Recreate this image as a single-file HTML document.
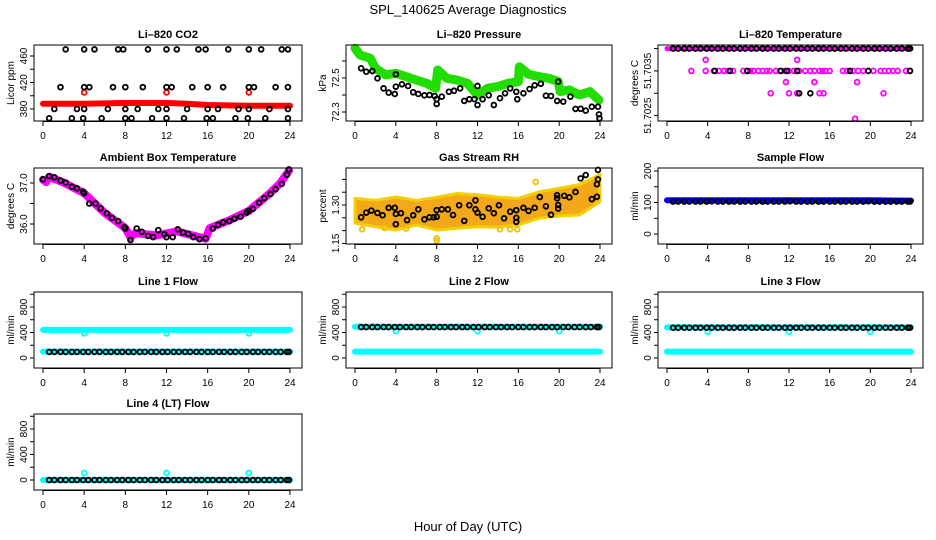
<!DOCTYPE html>
<html><head><meta charset="utf-8"><style>
html,body{margin:0;padding:0;background:#fff;}
svg{display:block;font-family:"Liberation Sans",sans-serif;}
</style></head><body>
<svg id="chart" width="936" height="540" viewBox="0 0 936 540" xmlns="http://www.w3.org/2000/svg">
<rect width="936" height="540" fill="#fff"/>
<text x="468" y="14" text-anchor="middle" font-size="13">SPL_140625  Average Diagnostics</text>
<text x="468" y="531" text-anchor="middle" font-size="13">Hour of Day (UTC)</text>
</svg>
<script>
// ---- shared hours for regular black markers ----
const H = [0.6,1.1,1.7,2.2,2.8,3.3,3.9,4.4,5.0,5.5,6.1,6.6,7.2,7.7,8.3,8.8,9.4,9.9,10.5,11.0,11.6,12.1,12.7,13.2,13.8,14.3,14.9,15.4,16.0,16.5,17.1,17.6,18.2,18.7,19.3,19.8,20.4,20.9,21.5,22.0,22.6,23.1,23.7,23.9];
const bandHours = [0,4,8,12,16,20,24];
const xTicks = [0,4,8,12,16,20,24];

// ---- CO2 ----
const co2Hours = [2.2,4,5,7.3,7.8,10.2,12,13,15.1,15.8,18,20,21.2,23.2,23.8, 1.7,4,4.5,6.8,8,9.7,12,12.5,14.5,16,17.5,20,20.5,22.6,23.8, 1.1,3.3,4,6.3,8,9.2,11.2,12,14,16,17,19,20,22,23.8, 0.6,2.8,3.9,5.7,8,8.6,10.6,12,13.7,15.9,16.5,18.7,19.9,21.6,23.8];
const co2Vals = [470,470,470,470,470,470,470,470,470,470,470,470,470,470,470, 413,413,413,413,413,413,413,413,413,413,413,413,413,413,413, 380,380,380,380,380,380,380,380,380,380,380,380,380,380,380, 366,366,366,366,366,366,366,366,366,366,366,366,366,366,366];
const co2BandHours = [0,4,8,10,12,14,16,20,24];
const co2Band = [388,388,389,389,389,388,386,385,385];
const co2OutHours = [4,12,20];
const co2Out = [405,405,405];

// ---- Pressure ----
const presBandHours = [0,0.5,1.5,2,3,4,5,6,7,7.9,8.1,9,10,11,12,13,14,15,16,16.1,17,18,19,19.9,20.1,21,22,23,23.9];
const presBand = [72.675,72.635,72.616,72.557,72.518,72.528,72.508,72.488,72.469,72.44,72.547,72.498,72.488,72.469,72.40,72.44,72.45,72.469,72.478,72.566,72.522,72.508,72.498,72.48,72.42,72.43,72.40,72.42,72.37];
const presHours = [0.6,1.1,1.7,2.2,2.8,3.3,3.9,4,4,4.6,5.2,5.7,6.2,6.8,7.3,7.8,8,8,8.5,9.2,9.7,10.3,10.7,11.2,11.7,12,12,12.5,13.1,13.6,14.2,14.7,15.2,15.8,15.9,16.5,17.1,17.6,18.2,18.7,19.2,19.8,19.9,20.4,21.1,21.6,22.1,22.6,23.2,23.8,23.9,23.95];
const presVals = [72.557,72.537,72.541,72.498,72.439,72.414,72.406,72.522,72.449,72.463,72.453,72.416,72.406,72.398,72.400,72.394,72.376,72.347,72.390,72.419,72.425,72.439,72.365,72.375,72.376,72.341,72.453,72.375,72.398,72.341,72.381,72.410,72.439,72.419,72.375,72.410,72.435,72.457,72.466,72.396,72.394,72.365,72.478,72.361,72.390,72.318,72.319,72.308,72.331,72.331,72.286,72.263];

// ---- Li-820 temperature ----
const tempTop = [51.7040,51.7040,51.7040,51.7040,51.7040,51.7040,51.7040,51.7040,51.7040,51.7040,51.7040,51.7040,51.7040,51.7040,51.7040,51.7040,51.7040,51.7040,51.7040,51.7040,51.7040,51.7040,51.7040,51.7040,51.7040,51.7040,51.7040,51.7040,51.7040,51.7040,51.7040,51.7040,51.7040,51.7040,51.7040,51.7040,51.7040,51.7040,51.7040,51.7040,51.7040,51.7040,51.7040,51.7040];
const tempBandVals = [51.7040,51.7040,51.7040,51.7040,51.7040,51.7040,51.7040];
const tempMagHours = [2.4,3.8,4.6,5.1,5.6,6,6.5,7.5,7.9,8.2,8.5,9,9.4,9.8,10.1,10.7,11.1,11.6,12,12.5,13,13.6,14.1,14.5,15,15.3,15.6,16,17.3,17.7,18.3,18.8,19.3,20.3,21,21.4,21.8,22.2,22.7,23.5,23.9, 3.8,12.8, 11.7,14.5,18.7, 10.2,12,12.8,15,15.4,21.3, 18.5];
const tempMagVals = [51.7035,51.7035,51.7035,51.7035,51.7035,51.7035,51.7035,51.7035,51.7035,51.7035,51.7035,51.7035,51.7035,51.7035,51.7035,51.7035,51.7035,51.7035,51.7035,51.7035,51.7035,51.7035,51.7035,51.7035,51.7035,51.7035,51.7035,51.7035,51.7035,51.7035,51.7035,51.7035,51.7035,51.7035,51.7035,51.7035,51.7035,51.7035,51.7035,51.7035,51.7035, 51.70375,51.70375, 51.70325,51.70325,51.70325, 51.7030,51.7030,51.7030,51.7030,51.7030,51.7030, 51.70243];
const tempBlkHours = [4.7,6.2,7.9,11.2,11.8,12.8,18,19.8,23.9,13,14.1];
const tempBlkVals = [51.7035,51.7035,51.7035,51.7035,51.7035,51.7035,51.7035,51.7035,51.7035,51.7030,51.7030];

// ---- Ambient box temperature ----
const ambHours = [0,0.6,1.1,1.7,2.2,2.8,3.3,3.9,4,4.5,5.1,5.6,6.2,6.7,7.3,7.9,8,8.5,9.1,9.6,10.2,10.7,11.2,11.8,12,12.6,13.1,13.6,14.1,14.6,15.2,15.8,16.5,17,17.5,18.1,18.6,19.2,19.8,20,20.4,21,21.5,22.1,22.6,23.2,23.7,23.9];
const ambVals = [37.09,37.17,37.14,37.06,37.01,36.91,36.87,36.79,36.75,36.50,36.50,36.38,36.26,36.15,36.07,35.92,35.89,35.61,35.89,35.81,35.71,35.68,35.85,35.75,35.68,35.68,35.87,35.79,35.76,35.68,35.63,35.65,35.89,35.98,36.04,36.07,36.13,36.18,36.28,36.32,36.37,36.52,36.63,36.73,36.85,36.98,37.20,37.33];
const ambBandHours = [0,0.3,0.6,2,4,6,8,8.5,9,11,13,15.8,16.2,18,20,22,23,23.9];
const ambBand = [37.08,37.02,37.15,37.01,36.75,36.27,35.90,35.68,35.78,35.72,35.82,35.64,35.90,36.08,36.32,36.74,36.98,37.30];

// ---- Gas stream RH ----
const rhBandHours = [0,2,4,6,8,10,12,14,16,18,20,22,24];
const rhUpper = [1.326,1.318,1.331,1.318,1.330,1.345,1.340,1.331,1.326,1.351,1.365,1.380,1.419];
const rhLower = [1.229,1.215,1.202,1.222,1.202,1.209,1.215,1.213,1.222,1.248,1.257,1.261,1.313];
const rhOutHours = [0.7,2.9,5.0,8,8,15.2,15.9,17.7,14.2];
const rhOutVals = [1.205,1.21,1.208,1.16,1.17,1.205,1.205,1.39,1.205];
const rhHours = [0.6,1.1,1.6,2.2,2.7,3.3,3.9,4,4,4.5,5.1,5.7,6.2,6.8,7.3,7.7,8,8,8.5,9.1,9.6,10.2,10.7,11.2,11.8,11.8,12,12.5,13.1,13.6,14.1,14.6,15.2,15.8,15.8,15.8,16.5,17,17.6,18.1,18.7,19.2,19.8,19.8,19.9,19.9,20.5,21,21.6,22.1,22.6,23.2,23.7,23.7,23.8,23.8];
const rhVals = [1.252,1.270,1.278,1.269,1.260,1.289,1.289,1.265,1.225,1.268,1.241,1.260,1.283,1.244,1.252,1.252,1.280,1.254,1.283,1.283,1.261,1.299,1.238,1.299,1.318,1.283,1.270,1.254,1.287,1.268,1.299,1.248,1.274,1.280,1.250,1.234,1.289,1.277,1.289,1.331,1.295,1.262,1.338,1.326,1.300,1.286,1.336,1.330,1.351,1.404,1.417,1.323,1.332,1.381,1.400,1.437];

// ---- Sample flow ----
const sampleBand = [107,107,107,107,107,107,106];
const sampleVals = [103,103,103,103,103,103,103,104,103,103,103,103,103,103,103,103,103,103,103,103,103,104,103,103,103,103,103,103,103,103,103,103,103,103,103,104,103,103,103,103,103,103,103,103];

// ---- Line flows ----
const line1High = [440,440,440,440,440,440,440];
const line1Low = [100,100,100,100,100,100,100];
const line1Black = [95,95,95,95,95,95,95,95,95,95,95,95,95,95,95,95,95,95,95,95,95,95,95,95,95,95,95,95,95,95,95,95,95,95,95,95,95,95,95,95,95,95,95,95];
const line1OutVals = [385,385,385];
const line2High = [490,490,490,490,490,490,490];
const line2Low = [100,100,100,100,100,100,100];
const line2Black = [485,485,485,485,485,485,485,485,485,485,485,485,485,485,485,485,485,485,485,485,485,485,485,485,485,485,485,485,485,485,485,485,485,485,485,485,485,485,485,485,485,485,485,485];
const line2OutVals = [420,420,420];
const line3High = [480,480,480,480,480,480,480];
const line3Low = [100,100,100,100,100,100,100];
const line3Black = [475,475,475,475,475,475,475,475,475,475,475,475,475,475,475,475,475,475,475,475,475,475,475,475,475,475,475,475,475,475,475,475,475,475,475,475,475,475,475,475,475,475,475,475];
const line3OutVals = [410,410,410];
const line4Band = [0,0,0,0,0,0,0];
const line4Black = [0,0,0,0,0,0,0,0,0,0,0,0,0,0,0,0,0,0,0,0,0,0,0,0,0,0,0,0,0,0,0,0,0,0,0,0,0,0,0,0,0,0,0,0];
const line4OutVals = [110,110,110];
const outHours = [4,12,20];

const NS = "http://www.w3.org/2000/svg";
const svg = document.getElementById('chart');
function mk(tag, attrs, parent){
  const e = document.createElementNS(NS, tag);
  for (const k in attrs) e.setAttribute(k, attrs[k]);
  (parent||svg).appendChild(e);
  return e;
}
const colLeft = [34,346,658], colW = [268,266,265];
const rowTop = [45,168,292,414], PH = 76;

function panel(col,row,name,title,ylab,ymin,ymax,ticks,labels){
  const L = colLeft[col], T = rowTop[row], W = colW[col];
  const g = mk('g',{});
  
  
  const sx = h => L + 9 + h/24*(W-21);
  const sy = v => T + PH - (v - ymin)/(ymax - ymin)*PH;
  const t = mk('text',{x:L+W/2,y:T-7,'text-anchor':'middle','font-size':11,'font-weight':'bold'},g);
  t.textContent = title;
  
  
  const yl = mk('text',{x:0,y:0,'text-anchor':'middle','font-size':10,transform:`translate(${L-20},${T+PH/2}) rotate(-90)`},g);
  yl.textContent = ylab;
  
  
  const ya = mk('g',{},g);
  
  
  mk('line',{x1:L,x2:L,y1:sy(ticks[0]),y2:sy(ticks[ticks.length-1]),stroke:'#000','stroke-width':1},ya);
  ticks.forEach(v=>{ mk('line',{x1:L-4,x2:L,y1:sy(v),y2:sy(v),stroke:'#000'},ya); });
  labels.forEach(v=>{
    const lt = mk('text',{x:0,y:0,'text-anchor':'middle','font-size':10,transform:`translate(${L-7},${sy(v)}) rotate(-90)`},ya);
    lt.textContent = String(v);
    
    
  });
  const xa = mk('g',{},g);
  
  
  const yb = T+PH;
  mk('line',{x1:sx(0),x2:sx(24),y1:yb+0.5,y2:yb+0.5,stroke:'#000'},xa);
  xTicks.forEach(h=>{
    mk('line',{x1:sx(h),x2:sx(h),y1:yb,y2:yb+5,stroke:'#000'},xa);
    const xt = mk('text',{x:sx(h),y:yb+18,'text-anchor':'middle','font-size':10},xa);
    xt.textContent = String(h);
    
    
  });
  const marks = mk('g',{},g);
  
  
  const box = mk('rect',{x:L,y:T,width:W,height:PH,fill:'none',stroke:'#000','stroke-width':1},g);
  
  
  return {sx,sy,g:marks};
}
function points(p,hs,vs,color,nm,r){
  hs.forEach((h,i)=>{
    const c = mk('circle',{cx:p.sx(h),cy:p.sy(vs[i]),r:r||2.4,fill:'none',stroke:color,'stroke-width':1.8},p.g);
    
    
  });
}
function band(p,hs,vs,color,width,nm){
  const pl = mk('polyline',{points:hs.map((h,i)=>p.sx(h)+','+p.sy(vs[i])).join(' '),fill:'none',stroke:color,'stroke-width':width,'stroke-linecap':'round','stroke-linejoin':'round'},p.g);
  
  
}

let p = panel(0,0,'co2','Li\u2013820 CO2','Licor ppm',361.9,476.6,[380,400,420,440,460],[380,420,460]);
band(p,co2BandHours,co2Band,'#ff0000',6,'co2-red-band');
points(p,co2OutHours,co2Out,'#ff0000','co2-red-point');
points(p,co2Hours,co2Vals,'#000','co2-black-point');

p = panel(1,0,'pressure','Li\u2013820 Pressure','kPa',72.247,72.694,[72.3,72.4,72.5,72.6],[72.3,72.5]);
band(p,presBandHours,presBand,'#22dd00',9,'pressure-green-band');
points(p,presHours,presVals,'#000','pressure-black-point');

p = panel(2,0,'li820-temp','Li\u2013820 Temperature','degrees C',51.70238,51.70408,[51.7025,51.7030,51.7035,51.7040],[51.7025,51.7035]);
band(p,bandHours,tempBandVals,'#ff00ff',5,'temp-magenta-band');
points(p,tempMagHours,tempMagVals,'#ff00ff','temp-magenta-point');
points(p,H,tempTop,'#000','temp-black-point');
points(p,tempBlkHours,tempBlkVals,'#000','temp-black-point');

p = panel(0,1,'ambient','Ambient Box Temperature','degrees C',35.512,37.366,[36.0,36.5,37.0],['36.0','37.0']);
band(p,ambBandHours,ambBand,'#ff00ff',8,'ambient-magenta-band');
points(p,ambHours,ambVals,'#000','ambient-black-point');

p = panel(1,1,'rh','Gas Stream RH','percent',1.1477,1.4445,[1.15,1.20,1.25,1.30,1.35,1.40],['1.15','1.30']);
{
  const pts = rhBandHours.map((h,i)=>p.sx(h)+','+p.sy(rhUpper[i])).concat(rhBandHours.slice().reverse().map((h,j)=>p.sx(h)+','+p.sy(rhLower[rhLower.length-1-j])));
  const poly = mk('polygon',{points:pts.join(' '),fill:'#f3a81a',stroke:'#f5d000','stroke-width':3,'stroke-linejoin':'round'},p.g);
  
  
}
points(p,rhOutHours,rhOutVals,'#f0c000','rh-yellow-point');
points(p,rhHours,rhVals,'#000','rh-black-point');

p = panel(2,1,'sample-flow','Sample Flow','ml/min',-31.7,209.5,[0,50,100,150,200],[0,100,200]);
band(p,bandHours,sampleBand,'#0000ff',6,'sample-blue-band');
points(p,H,sampleVals,'#000','sample-black-point');

const fy = [-157,1035], fT = [0,200,400,600,800,1000], fL = [0,400,800];
p = panel(0,2,'line1','Line 1 Flow','ml/min',fy[0],fy[1],fT,fL);
band(p,bandHours,line1High,'#00ffff',6,'line1-cyan-high');
band(p,bandHours,line1Low,'#00ffff',6,'line1-cyan-low');
points(p,outHours,line1OutVals,'#00ffff','line1-cyan-point');
points(p,H,line1Black,'#000','line1-black-point');

p = panel(1,2,'line2','Line 2 Flow','ml/min',fy[0],fy[1],fT,fL);
band(p,bandHours,line2High,'#00ffff',6,'line2-cyan-high');
band(p,bandHours,line2Low,'#00ffff',6,'line2-cyan-low');
points(p,outHours,line2OutVals,'#00ffff','line2-cyan-point');
points(p,H,line2Black,'#000','line2-black-point');

p = panel(2,2,'line3','Line 3 Flow','ml/min',fy[0],fy[1],fT,fL);
band(p,bandHours,line3High,'#00ffff',6,'line3-cyan-high');
band(p,bandHours,line3Low,'#00ffff',6,'line3-cyan-low');
points(p,outHours,line3OutVals,'#00ffff','line3-cyan-point');
points(p,H,line3Black,'#000','line3-black-point');

p = panel(0,3,'line4','Line 4 (LT) Flow','ml/min',fy[0],fy[1],fT,fL);
band(p,bandHours,line4Band,'#00ffff',6,'line4-cyan-band');
points(p,outHours,line4OutVals,'#00ffff','line4-cyan-point');
points(p,H,line4Black,'#000','line4-black-point');
</script>
</body></html>
